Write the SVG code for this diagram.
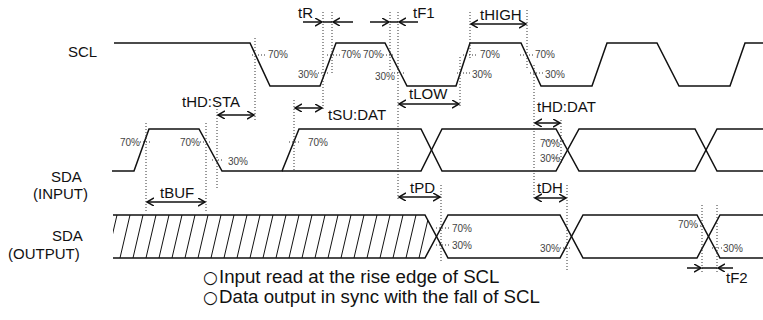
<svg xmlns="http://www.w3.org/2000/svg" width="763" height="320" viewBox="0 0 763 320">
<style>
.w{fill:none;stroke:#111;stroke-width:1.5;stroke-linejoin:miter}
.h{fill:none;stroke:#111;stroke-width:1}
.d{fill:none;stroke:#333;stroke-width:1;stroke-dasharray:1 2}
.a{fill:none;stroke:#111;stroke-width:1.5;marker-end:url(#ah)}
.aa{fill:none;stroke:#111;stroke-width:1.5;marker-start:url(#ah);marker-end:url(#ah)}
.s{fill:none;stroke:#111;stroke-width:1.5}
.lb{font-family:"Liberation Sans",Arial,sans-serif;font-size:15px;fill:#111}
.pc{font-family:"Liberation Sans",Arial,sans-serif;font-size:10px;fill:#444}
.ft{font-family:"Liberation Sans",Arial,sans-serif;font-size:18.7px;fill:#111}
.ci{font-family:"DejaVu Sans",sans-serif;font-size:17px}
</style>
<defs>
<marker id="ah" markerUnits="userSpaceOnUse" markerWidth="10" markerHeight="10" refX="7" refY="4" orient="auto-start-reverse">
<path d="M0,0 L7,4 L0,8" fill="none" stroke="#111" stroke-width="1.5"/>
</marker>
<clipPath id="hc"><polygon points="113,215 425,215 436.5,236.5 425,258 113,258"/></clipPath>
</defs>

<g id="labels">
<text class="lb" x="51" y="182">SDA</text>
<text class="lb" x="33" y="199">(INPUT)</text>
<text class="lb" x="68" y="57">SCL</text>
<text class="lb" x="52" y="241">SDA</text>
<text class="lb" x="8" y="259">(OUTPUT)</text>
</g>

<g id="scl">
<path class="w" d="M114,43 H250 L270,86 H320 L336,43 H385 L407,86 H456 L470,43 H521 L541,86 H592 L607,43 H657 L679,86 H730 L745,43 H763"/>
</g>

<g id="sda-input">
<path class="w" d="M112,171 H134 L149,129 H199 L222,171 H282 L299,129 H421 L442,171 H556 L579,129 H695 L717,171 H763"/>
<path class="w" d="M282,171 H421 L442,129 H556 L579,171 H695 L717,129 H763"/>
</g>

<g id="sda-output">
<g clip-path="url(#hc)" class="h">
<path d="M107,258 l10,-43 M120,258 l10,-43 M133,258 l10,-43 M146,258 l10,-43 M159,258 l10,-43 M172,258 l10,-43 M185,258 l10,-43 M198,258 l10,-43 M211,258 l10,-43 M224,258 l10,-43 M237,258 l10,-43 M250,258 l10,-43 M263,258 l10,-43 M276,258 l10,-43 M289,258 l10,-43 M302,258 l10,-43 M315,258 l10,-43 M328,258 l10,-43 M341,258 l10,-43 M354,258 l10,-43 M367,258 l10,-43 M380,258 l10,-43 M393,258 l10,-43 M406,258 l10,-43 M419,258 l10,-43"/>
</g>
<path class="w" d="M113,215 H425 L448,258 H560 L583,215 H697 L720,258 H763"/>
<path class="w" d="M113,258 H425 L448,215 H560 L583,258 H697 L720,215 H763"/>
</g>

<g id="connectors">
<path class="d" d="M255,38 V120 M217,103 V188 M146,123 V212 M206,123 V212 M294,100 V170 M323,12 V110 M332,12 V75 M390,12 V70 M398,12 V200 M441,185 V262 M460,57 V106 M470,12 V58 M527,10 V68 M534,65 V200 M561,120 V165 M567,185 V272 M702,205 V273 M717,205 V273"/>
<path class="d" d="M252,55 H265 M318,73 H328 M327,55 H340 M383,55 H394 M394,73 H404 M457,73 H470 M463,55 H478 M520,55 H534 M530,73 H543 M140,142 H152 M200,142 H210 M212,160 H224 M289,142 H300 M545,141 H565 M553,158 H565 M436,228 H450 M436,245 H450 M560,248 H570 M697,226 H706 M712,248 H722"/>
<line class="a" x1="303" y1="22" x2="322" y2="22"/>
<line class="s" x1="323" y1="22" x2="332" y2="22"/>
<line class="a" x1="353" y1="22" x2="333" y2="22"/>
<line class="a" x1="370" y1="22" x2="389" y2="22"/>
<line class="s" x1="390" y1="22" x2="398" y2="22"/>
<line class="a" x1="418" y1="22" x2="399" y2="22"/>
<line class="aa" x1="471" y1="24" x2="526" y2="24"/>
<line class="aa" x1="399" y1="104" x2="459" y2="104"/>
<line class="aa" x1="218" y1="115" x2="254" y2="115"/>
<line class="aa" x1="295" y1="108" x2="322" y2="108"/>
<line class="aa" x1="535" y1="123" x2="560" y2="123"/>
<line class="aa" x1="147" y1="202" x2="205" y2="202"/>
<line class="aa" x1="399" y1="197" x2="440" y2="197"/>
<line class="aa" x1="535" y1="198" x2="566" y2="198"/>
<line class="a" x1="687" y1="268" x2="701" y2="268"/>
<line class="s" x1="702" y1="268" x2="717" y2="268"/>
<line class="a" x1="733" y1="268" x2="718" y2="268"/>
</g>

<g id="timing-labels">
<text class="lb" x="298" y="18">tR</text>
<text class="lb" x="413" y="18">tF1</text>
<text class="lb" x="480" y="20">tHIGH</text>
<text class="lb" x="409" y="99">tLOW</text>
<text class="lb" x="182" y="107">tHD:STA</text>
<text class="lb" x="328" y="120">tSU:DAT</text>
<text class="lb" x="537" y="112">tHD:DAT</text>
<text class="lb" x="160" y="198">tBUF</text>
<text class="lb" x="410" y="193">tPD</text>
<text class="lb" x="537" y="193">tDH</text>
<text class="lb" x="726" y="283">tF2</text>
</g>

<g id="percent-labels">
<text class="pc" x="268" y="58">70%</text>
<text class="pc" x="298" y="78">30%</text>
<text class="pc" x="341" y="58">70%</text>
<text class="pc" x="363" y="58">70%</text>
<text class="pc" x="375" y="80">30%</text>
<text class="pc" x="472" y="78">30%</text>
<text class="pc" x="480" y="58">70%</text>
<text class="pc" x="535" y="58">70%</text>
<text class="pc" x="545" y="78">30%</text>
<text class="pc" x="120" y="146">70%</text>
<text class="pc" x="180" y="146">70%</text>
<text class="pc" x="228" y="165">30%</text>
<text class="pc" x="308" y="146">70%</text>
<text class="pc" x="540" y="147">70%</text>
<text class="pc" x="540" y="162">30%</text>
<text class="pc" x="452" y="232">70%</text>
<text class="pc" x="452" y="249">30%</text>
<text class="pc" x="540" y="252">30%</text>
<text class="pc" x="678" y="228">70%</text>
<text class="pc" x="723" y="252">30%</text>
</g>

<g id="notes">
<text class="ft" x="203" y="283"><tspan class="ci">○</tspan><tspan x="219">Input read at the rise edge of SCL</tspan></text>
<text class="ft" x="203" y="303"><tspan class="ci">○</tspan><tspan x="219">Data output in sync with the fall of SCL</tspan></text>
</g>
</svg>
